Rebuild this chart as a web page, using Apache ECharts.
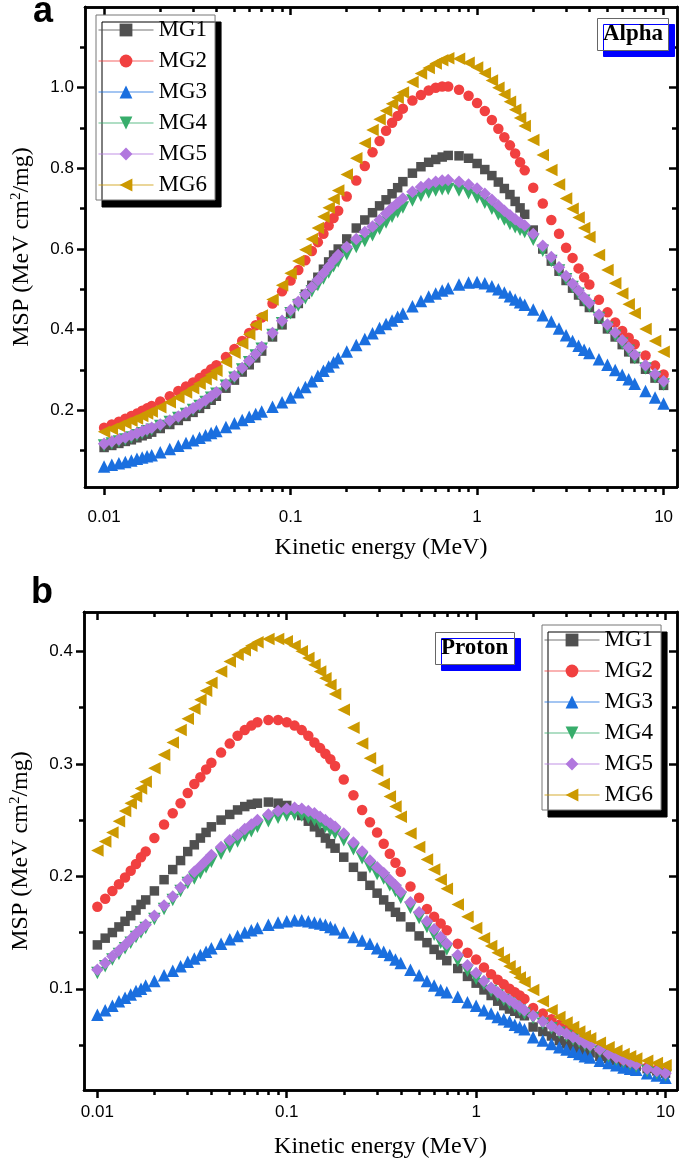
<!DOCTYPE html>
<html><head><meta charset="utf-8">
<script src="https://cdn.jsdelivr.net/npm/echarts@6/dist/echarts.min.js"></script>
<style>html,body{margin:0;padding:0;background:#fff}#c{width:685px;height:1169px}</style>
</head><body><div id="c"></div>
<script>
// ---------- DATA ----------
const energies = [0.01,0.011,0.012,0.013,0.014,0.015,0.016,0.017,0.018,
  0.02,0.0225,0.025,0.0275,0.03,0.0325,0.035,0.0375,0.04,
  0.045,0.05,0.055,0.06,0.065,0.07,0.08,0.09,
  0.1,0.11,0.12,0.13,0.14,0.15,0.16,0.17,0.18,
  0.2,0.225,0.25,0.275,0.3,0.325,0.35,0.375,0.4,0.45,0.5,0.55,0.6,0.65,0.7,0.8,0.9,
  1,1.1,1.2,1.3,1.4,1.5,1.6,1.7,1.8,
  2,2.25,2.5,2.75,3,3.25,3.5,3.75,4,4.5,5,5.5,6,6.5,7,8,9,
  10];

const seriesNames = ['MG1','MG2','MG3','MG4','MG5','MG6'];

// Panel a : Alpha
const alphaMG1 = [.108,.113,.118,.123,.127,.132,.137,.141,.146,
  .155,.165,.175,.185,.195,.205,.215,.225,.235,
  .255,.275,.295,.313,.330,.347,.382,.412,
  .440,.465,.488,.510,.530,.550,.568,.585,.600,
  .625,.652,.672,.690,.707,.722,.737,.752,.767,.788,.804,.815,.822,.828,.832,.831,.825,
  .812,.797,.782,.766,.750,.735,.718,.702,.686,
  .647,.600,.570,.545,.522,.503,.486,.470,.455,.426,.402,.382,.363,.345,.328,.302,.280,
  .262];
const alphaMG2 = [.157,.165,.172,.179,.186,.192,.199,.205,.211,
  .222,.235,.248,.259,.269,.280,.291,.302,.312,
  .332,.352,.372,.392,.411,.430,.465,.495,
  .522,.548,.572,.595,.617,.638,.658,.677,.695,
  .730,.770,.806,.840,.868,.893,.913,.930,.948,.968,.982,.993,1.000,1.003,1.003,.995,.980,
  .962,.942,.920,.898,.877,.857,.837,.815,.795,
  .752,.713,.672,.638,.603,.578,.552,.530,.512,.474,.443,.418,.397,.380,.364,.336,.311,
  .289];
const alphaMG3 = [.061,.065,.069,.072,.076,.080,.083,.086,.089,
  .096,.104,.112,.119,.126,.132,.138,.144,.149,
  .159,.168,.176,.184,.191,.197,.209,.220,
  .232,.245,.258,.272,.286,.298,.309,.319,.329,
  .346,.362,.377,.391,.404,.414,.423,.432,.440,.458,.471,.482,.490,.497,.503,.512,.517,
  .518,.515,.508,.500,.492,.483,.475,.468,.462,
  .450,.436,.420,.403,.386,.372,.360,.350,.342,.327,.313,.300,.288,.277,.266,.248,.232,
  .217];
const alphaMG4 = [.113,.118,.123,.128,.133,.138,.143,.148,.152,
  .161,.171,.181,.191,.201,.211,.221,.231,.241,
  .261,.281,.301,.319,.336,.353,.387,.416,
  .441,.460,.478,.495,.511,.527,.542,.557,.569,
  .587,.605,.620,.634,.650,.666,.680,.692,.703,.720,.732,.740,.745,.748,.749,.745,.738,
  .728,.715,.700,.686,.673,.662,.654,.648,.642,
  .623,.596,.570,.547,.525,.506,.489,.472,.458,.429,.405,.385,.366,.348,.330,.304,.282,
  .264];
const alphaMG5 = [.117,.123,.128,.133,.138,.143,.148,.153,.157,
  .165,.175,.185,.195,.205,.215,.225,.235,.245,
  .265,.285,.305,.323,.340,.357,.392,.422,
  .449,.469,.488,.506,.523,.540,.556,.572,.585,
  .605,.625,.642,.656,.672,.688,.702,.714,.725,.742,.754,.762,.767,.770,.771,.767,.760,
  .750,.737,.722,.708,.695,.684,.674,.666,.658,
  .637,.608,.580,.555,.533,.514,.497,.480,.466,.437,.413,.393,.374,.356,.338,.312,.290,
  .272];
const alphaMG6 = [.147,.154,.161,.168,.174,.180,.186,.192,.197,
  .208,.220,.232,.244,.255,.266,.277,.288,.298,
  .320,.343,.366,.389,.412,.435,.475,.510,
  .540,.570,.598,.625,.652,.680,.702,.724,.745,
  .785,.825,.862,.895,.922,.943,.960,.975,.988,1.014,1.035,1.049,1.060,1.068,1.073,1.072,1.062,
  1.050,1.036,1.018,1.000,.983,.965,.945,.925,.905,
  .870,.833,.796,.760,.725,.700,.678,.652,.630,.585,.548,.515,.490,.463,.441,.402,.372,
  .345];

// Panel b : Proton
const protonMG1 = [.139,.145,.150,.155,.160,.165,.170,.175,.179,
  .187,.197,.206,.214,.222,.228,.234,.239,.244,
  .250,.255,.259,.262,.264,.265,.266,.265,
  .263,.259,.254,.249,.244,.239,.234,.229,.225,
  .217,.208,.200,.192,.185,.179,.173,.168,.164,.155,.147,.141,.135,.130,.125,.118,.111,
  .105,.099,.094,.089,.085,.082,.080,.078,.076,
  .066,.062,.058,.054,.051,.049,.047,.045,.043,.040,.038,.036,.034,.032,.031,.029,.027,
  .025];
const protonMG2 = [.173,.180,.187,.193,.199,.205,.211,.217,.222,
  .234,.246,.256,.265,.274,.282,.288,.295,.301,
  .310,.318,.325,.330,.334,.337,.339,.339,
  .337,.334,.330,.325,.319,.314,.309,.304,.298,
  .286,.272,.259,.248,.239,.229,.220,.212,.204,.191,.181,.171,.164,.158,.152,.140,.132,
  .126,.119,.113,.108,.104,.100,.097,.094,.091,
  .083,.078,.073,.068,.064,.060,.057,.054,.052,.047,.043,.040,.037,.035,.033,.030,.028,
  .026];
const protonMG3 = [.077,.081,.085,.089,.092,.095,.098,.100,.103,
  .107,.112,.116,.120,.124,.127,.130,.133,.136,
  .140,.144,.147,.150,.152,.154,.157,.159,
  .160,.161,.161,.160,.159,.158,.157,.155,.153,
  .150,.146,.143,.140,.136,.133,.130,.126,.123,.117,.112,.107,.103,.099,.097,.093,.088,
  .085,.081,.078,.075,.073,.071,.068,.066,.064,
  .057,.054,.051,.048,.046,.044,.042,.040,.039,.036,.034,.032,.030,.029,.028,.025,.023,
  .021];
const protonMG4 = [.114,.120,.126,.131,.136,.141,.146,.150,.154,
  .162,.171,.179,.187,.194,.198,.203,.208,.213,
  .220,.226,.231,.236,.240,.244,.249,.252,
  .254,.255,.254,.252,.250,.247,.244,.241,.238,
  .232,.224,.216,.208,.202,.198,.192,.187,.181,.172,.163,.155,.148,.141,.135,.125,.116,
  .109,.104,.098,.094,.090,.087,.084,.081,.078,
  .074,.069,.065,.061,.058,.055,.053,.050,.048,.044,.040,.037,.035,.033,.031,.027,.025,
  .023];
const protonMG5 = [.117,.123,.129,.134,.139,.144,.149,.153,.157,
  .165,.174,.182,.190,.197,.204,.209,.214,.219,
  .226,.232,.237,.242,.246,.250,.255,.258,
  .260,.261,.260,.258,.256,.253,.250,.247,.244,
  .238,.230,.222,.214,.208,.203,.197,.192,.186,.177,.168,.160,.153,.146,.140,.130,.121,
  .114,.107,.101,.097,.093,.090,.087,.084,.081,
  .076,.071,.067,.063,.060,.057,.055,.052,.050,.046,.042,.039,.037,.035,.033,.029,.027,
  .025];
const protonMG6 = [.223,.231,.239,.249,.258,.265,.271,.278,.284,
  .296,.308,.319,.330,.340,.349,.357,.365,.372,
  .382,.391,.397,.401,.405,.408,.411,.411,
  .409,.405,.400,.394,.388,.382,.376,.370,.362,
  .348,.332,.318,.305,.294,.282,.271,.262,.253,.238,.226,.215,.206,.197,.189,.175,.164,
  .154,.145,.138,.132,.126,.120,.115,.110,.106,
  .099,.089,.081,.075,.070,.066,.062,.058,.056,.052,.048,.045,.042,.040,.038,.036,.034,
  .032];

// Tick values
const xMajorTicks = [0.01, 0.1, 1, 10];
const xMinorTicks = [0.02,0.03,0.04,0.05,0.06,0.07,0.08,0.09,
  0.2,0.3,0.4,0.5,0.6,0.7,0.8,0.9, 2,3,4,5,6,7,8,9];
const alphaYLabels = [0.2, 0.4, 0.6, 0.8, 1.0];
const alphaYMinor = [0.1, 0.3, 0.5, 0.7, 0.9, 1.1];
const protonYLabels = [0.1, 0.2, 0.3, 0.4];
const protonYMinor = [0.05, 0.15, 0.25, 0.35];

// ---------- STYLE ----------
const colors = ['#505050', '#F14040', '#1A6FDF', '#37AD6B', '#B177DE', '#CC9900'];
const symbols = ['rect', 'circle', 'triangle', 'triangle', 'diamond', 'triangle'];
const rotates = [0, 0, 0, 180, 0, 90];
const sizes = [9.5, 10.5, 12.5, 12.5, 12.5, 12.5];
const BLACK = '#000';
const SERIF = 'Liberation Serif';
const SANS = 'Liberation Sans';

const panels = [
  { data: [alphaMG1, alphaMG2, alphaMG3, alphaMG4, alphaMG5, alphaMG6],
    grid: { left: 85, top: 7, width: 592, height: 480 },
    xMin: 0.0079, xMax: 11.8, yMin: 0.01, yMax: 1.2,
    yLabels: alphaYLabels, yMinor: alphaYMinor, yFmt: v => v.toFixed(1),
    xLabelMargin: 22, xNameGap: 49, yNameGap: 51 },
  { data: [protonMG1, protonMG2, protonMG3, protonMG4, protonMG5, protonMG6],
    grid: { left: 84, top: 612, width: 593, height: 478 },
    xMin: 0.0085, xMax: 11.5, yMin: 0.01, yMax: 0.435,
    yLabels: protonYLabels, yMinor: protonYMinor, yFmt: v => v.toFixed(1),
    xLabelMargin: 14, xNameGap: 45, yNameGap: 51 }
];

const grids = [], xAxes = [], yAxes = [], series = [];
const lineSty = { color: BLACK, width: 2.5 };
const tickSty = { color: BLACK, width: 2.5 };
const off = { show: false };
const frameLine = { show: true, onZero: false, lineStyle: lineSty };
const MAJ = 8, MIN = 5;

panels.forEach((p, pi) => {
  grids.push(Object.assign({ outerBoundsMode: 'none', containLabel: false }, p.grid));
  const xb = { type: 'log', logBase: 10, gridIndex: pi, min: p.xMin, max: p.xMax,
    splitLine: off, minorTick: off, axisLabel: off, axisTick: off, axisLine: frameLine };
  xAxes.push(
    Object.assign({}, xb, { position: 'bottom',
      axisTick: { show: true, inside: false, length: MAJ, lineStyle: tickSty, customValues: xMajorTicks },
      axisLabel: { show: true, customValues: xMajorTicks, margin: p.xLabelMargin,
        formatter: v => String(+(+v).toPrecision(3)),
        fontFamily: SANS, fontSize: 17, color: BLACK },
      name: 'Kinetic energy (MeV)', nameLocation: 'middle', nameGap: p.xNameGap,
      nameTextStyle: { fontFamily: SERIF, fontSize: 24, color: BLACK } }),
    Object.assign({}, xb, { position: 'bottom',
      axisTick: { show: true, inside: false, length: MIN, lineStyle: tickSty, customValues: xMinorTicks } }),
    Object.assign({}, xb, { position: 'top',
      axisTick: { show: true, inside: true, length: MAJ, lineStyle: tickSty, customValues: xMajorTicks } }),
    Object.assign({}, xb, { position: 'top',
      axisTick: { show: true, inside: true, length: MIN, lineStyle: tickSty, customValues: xMinorTicks } })
  );
  const yb = { type: 'value', gridIndex: pi, min: p.yMin, max: p.yMax,
    splitLine: off, minorTick: off, axisLabel: off, axisTick: off, axisLine: frameLine };
  yAxes.push(
    Object.assign({}, yb, { position: 'left',
      axisTick: { show: true, inside: false, length: MAJ, lineStyle: tickSty, customValues: p.yLabels },
      axisLabel: { show: true, customValues: p.yLabels, margin: 11, formatter: p.yFmt,
        fontFamily: SANS, fontSize: 17, color: BLACK },
      name: 'MSP (MeV cm{sup|2}/mg)', nameLocation: 'middle', nameGap: p.yNameGap, nameRotate: 90,
      nameTextStyle: { fontFamily: SERIF, fontSize: 24, color: BLACK,
        rich: { sup: { fontFamily: SERIF, fontSize: 15, verticalAlign: 'top', padding: [0, 0, 10, 0] } } } }),
    Object.assign({}, yb, { position: 'left',
      axisTick: { show: true, inside: false, length: MIN, lineStyle: tickSty, customValues: p.yMinor } }),
    Object.assign({}, yb, { position: 'right',
      axisTick: { show: true, inside: true, length: MAJ, lineStyle: tickSty, customValues: p.yLabels } }),
    Object.assign({}, yb, { position: 'right',
      axisTick: { show: true, inside: true, length: MIN, lineStyle: tickSty, customValues: p.yMinor } })
  );
  p.data.forEach((vals, k) => {
    series.push({
      type: 'line', name: seriesNames[k], xAxisIndex: pi * 4, yAxisIndex: pi * 4,
      data: energies.map((e, i) => [e, vals[i]]),
      symbol: symbols[k], symbolSize: sizes[k], symbolRotate: rotates[k],
      showSymbol: true, showAllSymbol: true,
      itemStyle: { color: colors[k], opacity: 1 },
      lineStyle: { color: colors[k], width: 1, opacity: 0 },
      emphasis: { disabled: true }, silent: true, animation: false
    });
  });
});

const legendBase = {
  orient: 'vertical', itemWidth: 55, itemHeight: 16, itemGap: 7,
  padding: [3, 8, 3, 2], backgroundColor: '#fff', borderColor: '#777', borderWidth: 1,
  shadowColor: '#000', shadowBlur: 0, shadowOffsetX: 6, shadowOffsetY: 7,
  textStyle: { fontFamily: SERIF, fontSize: 23, color: BLACK, lineHeight: 24 },
  lineStyle: { width: 1, opacity: 0.8 }, selectedMode: false, data: seriesNames
};
const boxTitle = {
  padding: [5, 6, 5, 6], backgroundColor: '#fff', borderColor: '#666', borderWidth: 1,
  shadowColor: '#0000ff', shadowBlur: 0, shadowOffsetX: 6, shadowOffsetY: 6,
  textStyle: { fontFamily: SERIF, fontWeight: 'bold', fontSize: 23, color: BLACK }
};
const letterStyle = { fontFamily: SANS, fontWeight: 'bold', fontSize: 36, color: BLACK };

const option = {
  backgroundColor: '#fff',
  animation: false,
  title: [
    { text: 'a', left: 33, top: -6, padding: 0, textStyle: letterStyle },
    { text: 'b', left: 31, top: 575, padding: 0, textStyle: letterStyle },
    Object.assign({ text: 'Alpha', left: 597, top: 18 }, boxTitle),
    Object.assign({ text: 'Proton', left: 435, top: 632 }, boxTitle)
  ],
  legend: [
    Object.assign({ left: 96, top: 15 }, legendBase),
    Object.assign({ left: 542, top: 625 }, legendBase)
  ],
  grid: grids, xAxis: xAxes, yAxis: yAxes, series: series
};

const chart = echarts.init(document.getElementById('c'), null, { renderer: 'canvas' });
chart.setOption(option);
</script>
</body></html>
